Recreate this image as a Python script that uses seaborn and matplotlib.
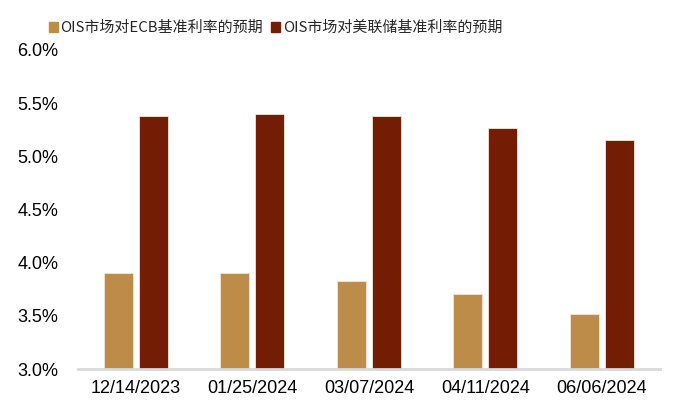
import pandas as pd
import matplotlib
matplotlib.use("Agg")
import matplotlib.pyplot as plt
import seaborn as sns
from matplotlib.ticker import FuncFormatter

# data
dates = ['12/14/2023', '01/25/2024', '03/07/2024', '04/11/2024', '06/06/2024']
ecb = [3.90, 3.90, 3.83, 3.71, 3.52]
fed = [5.38, 5.40, 5.38, 5.27, 5.15]
series = ['OIS市场对ECB基准利率的预期', 'OIS市场对美联储基准利率的预期']
colors = ['#BD8C48', '#731E04']

df = pd.DataFrame({
    'date': dates * 2,
    'value': ecb + fed,
    'series': [series[0]] * len(dates) + [series[1]] * len(dates),
})

sns.set_style('white')
plt.rcParams['font.family'] = ['Liberation Sans', 'Noto Sans CJK SC', 'DejaVu Sans']

fig = plt.figure(figsize=(7, 4.12), dpi=100)
ax = fig.add_axes([0.111, 0.104, 0.832, 0.775])

sns.barplot(data=df, x='date', y='value', hue='series', palette=colors,
            saturation=1, width=0.6, gap=0.17, ax=ax, legend=True,
            edgecolor='#F2E6DA', linewidth=0.6)

ax.set_ylim(3.0, 6.0)
ax.set_yticks([3.0, 3.5, 4.0, 4.5, 5.0, 5.5, 6.0])
ax.yaxis.set_major_formatter(FuncFormatter(lambda v, p: f'{v:.1f}%'))
ax.set_xlabel('')
ax.set_ylabel('')
ax.tick_params(axis='both', length=0, labelsize=13, colors='black')
ax.tick_params(axis='x', pad=8)
ax.tick_params(axis='y', pad=14)

for s in ['top', 'right', 'left']:
    ax.spines[s].set_visible(False)
ax.spines['bottom'].set_color('#D9D9D9')
ax.spines['bottom'].set_linewidth(2)

ax.get_legend().remove()
handles = [plt.Rectangle((0, 0), 1, 1, color=c) for c in colors]
fig.legend(handles, series, loc='center left', bbox_to_anchor=(0.05, 0.932),
           ncol=2, frameon=False, handlelength=0.6, handleheight=0.6,
           handletextpad=0.15, columnspacing=0.6,
           prop={'family': ['Noto Sans CJK SC'], 'size': 10.8})

fig.savefig('out.png', dpi=100)
